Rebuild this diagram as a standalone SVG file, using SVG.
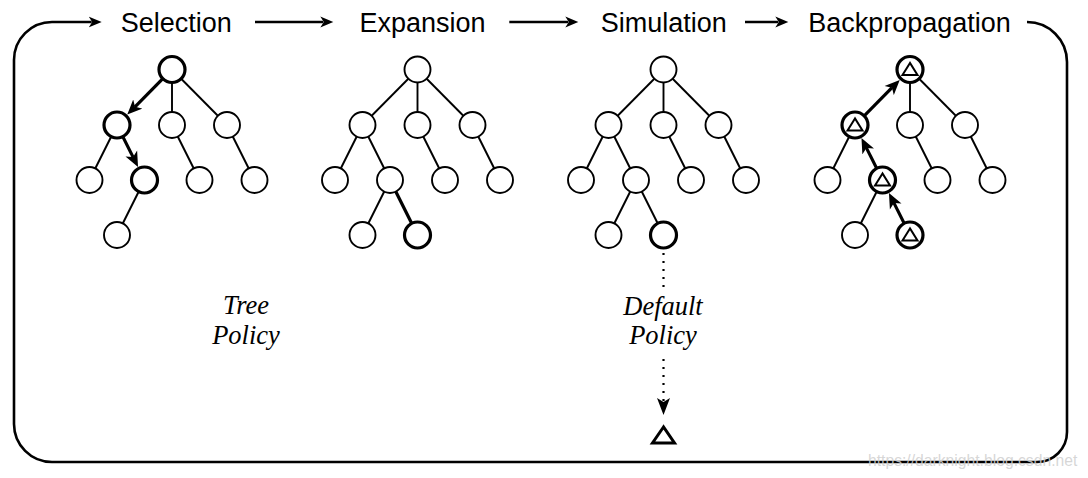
<svg xmlns="http://www.w3.org/2000/svg" width="1088" height="478" viewBox="0 0 1088 478">
<style>
.edge{stroke:#000;stroke-width:1.9;fill:none}
.bedge{stroke:#000;stroke-width:3.2;fill:none}
.n{fill:#fff;stroke:#000;stroke-width:1.9}
.b{fill:#fff;stroke:#000;stroke-width:3.2}
.tri{fill:none;stroke:#000;stroke-width:2;stroke-linejoin:miter}
.title{font-family:"Liberation Sans",Arial,sans-serif;font-size:27px;fill:#000;text-anchor:middle}
.pol{font-family:"Liberation Serif","Times New Roman",serif;font-style:italic;font-size:26.5px;fill:#000;text-anchor:middle}
.flow{stroke:#000;stroke-width:2.6;fill:none}
.dot{stroke:#000;stroke-width:2.2;fill:none;stroke-dasharray:2 6}
.wm{font-family:"Liberation Sans",Arial,sans-serif;font-size:15.7px;fill:#cfcfcf;fill-opacity:0.85}
</style>
<defs>
<marker id="ah" viewBox="0 -6 14 12" markerWidth="14" markerHeight="12" refX="3" refY="0" orient="auto" markerUnits="userSpaceOnUse">
<path d="M0,-5.5 L13,0 L0,5.5 L3.5,0 Z" fill="#000"/>
</marker>
<marker id="bh" viewBox="0 -7 16 14" markerWidth="16" markerHeight="14" refX="4" refY="0" orient="auto" markerUnits="userSpaceOnUse">
<path d="M0,-6.5 L15,0 L0,6.5 L4,0 Z" fill="#000"/>
</marker>
<marker id="dm" viewBox="0 -7 18 14" markerWidth="18" markerHeight="14" refX="4" refY="0" orient="auto" markerUnits="userSpaceOnUse">
<path d="M0,-6.5 L17,0 L0,6.5 L4,0 Z" fill="#000"/>
</marker>
</defs>
<rect width="1088" height="478" fill="#fff"/>

<g id="connectors">
<path class="flow" d="M1027,22 A40,40 0 0 1 1067,62 L1067,432 A30,30 0 0 1 1037,462 L52,462 A38,38 0 0 1 14,424 L14,60 A38,38 0 0 1 52,22 L91.7,22" marker-end="url(#ah)"/>
<line class="flow" x1="255" y1="22" x2="323.3" y2="22" marker-end="url(#ah)"/>
<line class="flow" x1="509.3" y1="22" x2="568.3" y2="22" marker-end="url(#ah)"/>
<line class="flow" x1="745" y1="22" x2="778.3" y2="22" marker-end="url(#ah)"/>
<line class="dot" x1="663.5" y1="253" x2="663.5" y2="291"/>
<line class="dot" x1="663.5" y1="359" x2="663.5" y2="402" marker-end="url(#dm)"/>
</g>

<g id="titles">
<text class="title" x="176.2" y="31.5">Selection</text>
<text class="title" x="422.5" y="31.5">Expansion</text>
<text class="title" x="663.8" y="31.5">Simulation</text>
<text class="title" x="909.5" y="31.5">Backpropagation</text>
</g>

<g id="tree-selection">
<line class="edge" x1="172" y1="69.5" x2="172" y2="125"/>
<line class="edge" x1="172" y1="69.5" x2="227" y2="125"/>
<line class="edge" x1="117" y1="125" x2="89.5" y2="180"/>
<line class="edge" x1="172" y1="125" x2="199.5" y2="180"/>
<line class="edge" x1="227" y1="125" x2="254.5" y2="180"/>
<line class="edge" x1="144.5" y1="180" x2="117" y2="235"/>
<line class="bedge" x1="162.8" y1="78.7" x2="135" y2="106.8" marker-end="url(#bh)"/>
<line class="bedge" x1="122.8" y1="136.6" x2="133.1" y2="157.1" marker-end="url(#bh)"/>
<circle class="b" cx="172" cy="69.5" r="13"/>
<circle class="b" cx="117" cy="125" r="13"/>
<circle class="n" cx="172" cy="125" r="13"/>
<circle class="n" cx="227" cy="125" r="13"/>
<circle class="n" cx="89.5" cy="180" r="13"/>
<circle class="b" cx="144.5" cy="180" r="13"/>
<circle class="n" cx="199.5" cy="180" r="13"/>
<circle class="n" cx="254.5" cy="180" r="13"/>
<circle class="n" cx="117" cy="235" r="13"/>
</g>

<g id="tree-expansion">
<line class="edge" x1="417.5" y1="69.5" x2="362.5" y2="125"/>
<line class="edge" x1="417.5" y1="69.5" x2="417.5" y2="125"/>
<line class="edge" x1="417.5" y1="69.5" x2="472.5" y2="125"/>
<line class="edge" x1="362.5" y1="125" x2="335" y2="180"/>
<line class="edge" x1="362.5" y1="125" x2="390" y2="180"/>
<line class="edge" x1="417.5" y1="125" x2="445" y2="180"/>
<line class="edge" x1="472.5" y1="125" x2="500" y2="180"/>
<line class="edge" x1="390" y1="180" x2="362.5" y2="235"/>
<line class="bedge" x1="390" y1="180" x2="417.5" y2="235"/>
<circle class="n" cx="417.5" cy="69.5" r="13"/>
<circle class="n" cx="362.5" cy="125" r="13"/>
<circle class="n" cx="417.5" cy="125" r="13"/>
<circle class="n" cx="472.5" cy="125" r="13"/>
<circle class="n" cx="335" cy="180" r="13"/>
<circle class="n" cx="390" cy="180" r="13"/>
<circle class="n" cx="445" cy="180" r="13"/>
<circle class="n" cx="500" cy="180" r="13"/>
<circle class="n" cx="362.5" cy="235" r="13"/>
<circle class="b" cx="417.5" cy="235" r="13"/>
</g>

<g id="tree-simulation">
<line class="edge" x1="663.5" y1="69.5" x2="608.5" y2="125"/>
<line class="edge" x1="663.5" y1="69.5" x2="663.5" y2="125"/>
<line class="edge" x1="663.5" y1="69.5" x2="718.5" y2="125"/>
<line class="edge" x1="608.5" y1="125" x2="581" y2="180"/>
<line class="edge" x1="608.5" y1="125" x2="636" y2="180"/>
<line class="edge" x1="663.5" y1="125" x2="691" y2="180"/>
<line class="edge" x1="718.5" y1="125" x2="746" y2="180"/>
<line class="edge" x1="636" y1="180" x2="608.5" y2="235"/>
<line class="edge" x1="636" y1="180" x2="663.5" y2="235"/>
<circle class="n" cx="663.5" cy="69.5" r="13"/>
<circle class="n" cx="608.5" cy="125" r="13"/>
<circle class="n" cx="663.5" cy="125" r="13"/>
<circle class="n" cx="718.5" cy="125" r="13"/>
<circle class="n" cx="581" cy="180" r="13"/>
<circle class="n" cx="636" cy="180" r="13"/>
<circle class="n" cx="691" cy="180" r="13"/>
<circle class="n" cx="746" cy="180" r="13"/>
<circle class="n" cx="608.5" cy="235" r="13"/>
<circle class="b" cx="663.5" cy="235" r="13"/>
</g>

<g id="tree-backpropagation">
<line class="edge" x1="910" y1="69.5" x2="910" y2="125"/>
<line class="edge" x1="910" y1="69.5" x2="965" y2="125"/>
<line class="edge" x1="855" y1="125" x2="827.5" y2="180"/>
<line class="edge" x1="910" y1="125" x2="937.5" y2="180"/>
<line class="edge" x1="965" y1="125" x2="992.5" y2="180"/>
<line class="edge" x1="882.5" y1="180" x2="855" y2="235"/>
<line class="bedge" x1="904.2" y1="223.4" x2="893.9" y2="202.9" marker-end="url(#bh)"/>
<line class="bedge" x1="876.7" y1="168.4" x2="866.4" y2="147.9" marker-end="url(#bh)"/>
<line class="bedge" x1="864.2" y1="115.8" x2="892" y2="87.7" marker-end="url(#bh)"/>
<circle class="b" cx="910" cy="69.5" r="13"/>
<circle class="b" cx="855" cy="125" r="13"/>
<circle class="n" cx="910" cy="125" r="13"/>
<circle class="n" cx="965" cy="125" r="13"/>
<circle class="n" cx="827.5" cy="180" r="13"/>
<circle class="b" cx="882.5" cy="180" r="13"/>
<circle class="n" cx="937.5" cy="180" r="13"/>
<circle class="n" cx="992.5" cy="180" r="13"/>
<circle class="n" cx="855" cy="235" r="13"/>
<circle class="b" cx="910" cy="235" r="13"/>
<polygon class="tri" points="910,63 902.5,75 917.5,75"/>
<polygon class="tri" points="855,118.5 847.5,130.5 862.5,130.5"/>
<polygon class="tri" points="882.5,173.5 875,185.5 890,185.5"/>
<polygon class="tri" points="910,228.5 902.5,240.5 917.5,240.5"/>
</g>

<g id="tree-policy">
<text class="pol" x="246" y="313.5">Tree</text>
<text class="pol" x="246" y="343.5">Policy</text>
</g>

<g id="default-policy">
<text class="pol" x="663" y="314.5">Default</text>
<text class="pol" x="663" y="343.5">Policy</text>
</g>

<g id="terminal">
<polygon points="663.5,427 652.5,443 674.5,443" fill="none" stroke="#000" stroke-width="3" stroke-linejoin="miter"/>
</g>

<text class="wm" x="868" y="465.5">https://darknight.blog.csdn.net</text>
</svg>
